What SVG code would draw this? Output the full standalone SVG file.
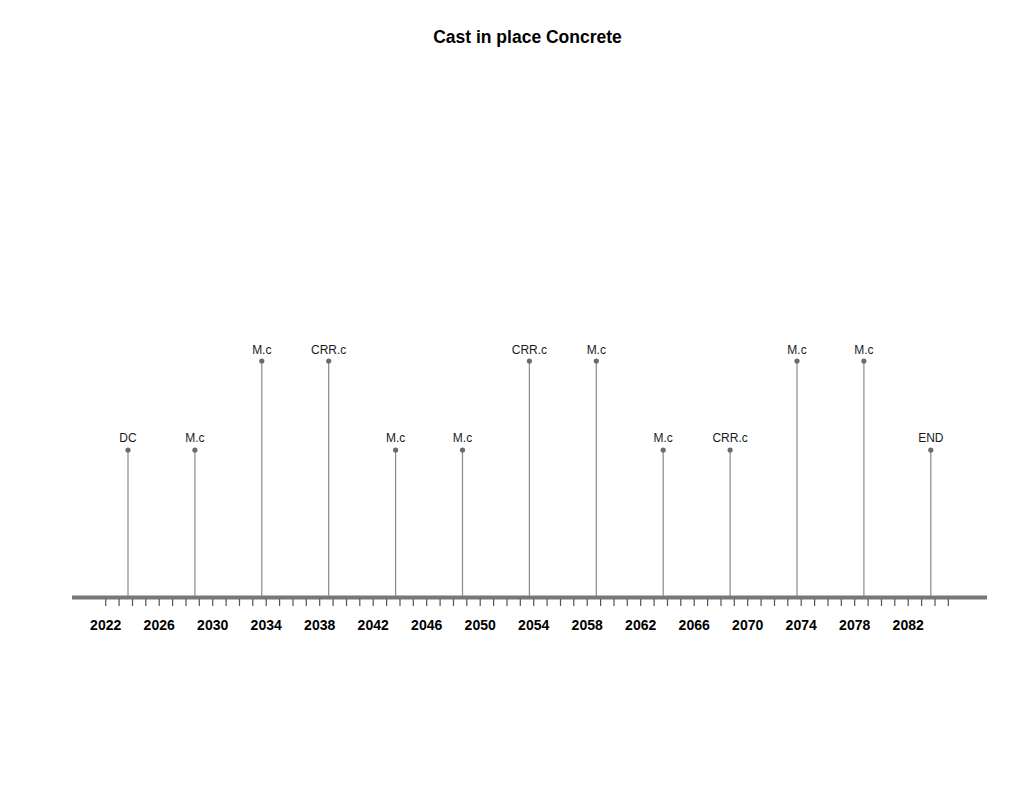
<svg xmlns="http://www.w3.org/2000/svg" width="1024" height="800" viewBox="0 0 1024 800">
<style>
.title{font-family:"Liberation Sans",Arial,sans-serif;font-size:17.5px;font-weight:bold;fill:#000;text-anchor:middle}
.yr{font-family:"Liberation Sans",Arial,sans-serif;font-size:14px;font-weight:bold;fill:#000;text-anchor:middle}
.lbl{font-family:"Liberation Sans",Arial,sans-serif;font-size:12px;fill:#1a1a1a;text-anchor:middle}
.stem{stroke:#8a8a8a;stroke-width:1.2}
.dot{fill:#6b6b6b}
.tick{stroke:#555;stroke-width:1.2}
</style>
<rect width="1024" height="800" fill="#fff"/>
<text class="title" x="527.5" y="43">Cast in place Concrete</text>
<g id="axis">
<line x1="72" y1="597.5" x2="987" y2="597.5" stroke="#777" stroke-width="4"/>
<path class="tick" d="M105.7 599V606M119.1 599V606M132.5 599V606M145.8 599V606M159.2 599V606M172.6 599V606M186 599V606M199.3 599V606M212.7 599V606M226.1 599V606M239.5 599V606M252.8 599V606M266.2 599V606M279.6 599V606M293 599V606M306.3 599V606M319.7 599V606M333.1 599V606M346.5 599V606M359.8 599V606M373.2 599V606M386.6 599V606M400 599V606M413.3 599V606M426.7 599V606M440.1 599V606M453.5 599V606M466.8 599V606M480.2 599V606M493.6 599V606M507 599V606M520.3 599V606M533.7 599V606M547.1 599V606M560.5 599V606M573.8 599V606M587.2 599V606M600.6 599V606M614 599V606M627.3 599V606M640.7 599V606M654.1 599V606M667.5 599V606M680.8 599V606M694.2 599V606M707.6 599V606M721 599V606M734.3 599V606M747.7 599V606M761.1 599V606M774.5 599V606M787.8 599V606M801.2 599V606M814.6 599V606M828 599V606M841.3 599V606M854.7 599V606M868.1 599V606M881.5 599V606M894.8 599V606M908.2 599V606M921.6 599V606M935 599V606M948.3 599V606"/>
<text class="yr" x="105.7" y="629.5">2022</text>
<text class="yr" x="159.2" y="629.5">2026</text>
<text class="yr" x="212.7" y="629.5">2030</text>
<text class="yr" x="266.2" y="629.5">2034</text>
<text class="yr" x="319.7" y="629.5">2038</text>
<text class="yr" x="373.2" y="629.5">2042</text>
<text class="yr" x="426.7" y="629.5">2046</text>
<text class="yr" x="480.2" y="629.5">2050</text>
<text class="yr" x="533.7" y="629.5">2054</text>
<text class="yr" x="587.2" y="629.5">2058</text>
<text class="yr" x="640.7" y="629.5">2062</text>
<text class="yr" x="694.2" y="629.5">2066</text>
<text class="yr" x="747.7" y="629.5">2070</text>
<text class="yr" x="801.2" y="629.5">2074</text>
<text class="yr" x="854.7" y="629.5">2078</text>
<text class="yr" x="908.2" y="629.5">2082</text>
</g>
<g id="connectors">
<line class="stem" x1="128" y1="450" x2="128" y2="596"/>
<line class="stem" x1="194.9" y1="450" x2="194.9" y2="596"/>
<line class="stem" x1="261.8" y1="361" x2="261.8" y2="596"/>
<line class="stem" x1="328.7" y1="361" x2="328.7" y2="596"/>
<line class="stem" x1="395.6" y1="450" x2="395.6" y2="596"/>
<line class="stem" x1="462.5" y1="450" x2="462.5" y2="596"/>
<line class="stem" x1="529.4" y1="361" x2="529.4" y2="596"/>
<line class="stem" x1="596.3" y1="361" x2="596.3" y2="596"/>
<line class="stem" x1="663.2" y1="450" x2="663.2" y2="596"/>
<line class="stem" x1="730.1" y1="450" x2="730.1" y2="596"/>
<line class="stem" x1="797" y1="361" x2="797" y2="596"/>
<line class="stem" x1="863.9" y1="361" x2="863.9" y2="596"/>
<line class="stem" x1="930.8" y1="450" x2="930.8" y2="596"/>
</g>
<g id="e1"><circle class="dot" cx="128" cy="450" r="2.6"/><text class="lbl" x="128" y="442">DC</text></g>
<g id="e2"><circle class="dot" cx="194.9" cy="450" r="2.6"/><text class="lbl" x="194.9" y="442">M.c</text></g>
<g id="e3"><circle class="dot" cx="261.8" cy="361" r="2.6"/><text class="lbl" x="261.8" y="354">M.c</text></g>
<g id="e4"><circle class="dot" cx="328.7" cy="361" r="2.6"/><text class="lbl" x="328.7" y="354">CRR.c</text></g>
<g id="e5"><circle class="dot" cx="395.6" cy="450" r="2.6"/><text class="lbl" x="395.6" y="442">M.c</text></g>
<g id="e6"><circle class="dot" cx="462.5" cy="450" r="2.6"/><text class="lbl" x="462.5" y="442">M.c</text></g>
<g id="e7"><circle class="dot" cx="529.4" cy="361" r="2.6"/><text class="lbl" x="529.4" y="354">CRR.c</text></g>
<g id="e8"><circle class="dot" cx="596.3" cy="361" r="2.6"/><text class="lbl" x="596.3" y="354">M.c</text></g>
<g id="e9"><circle class="dot" cx="663.2" cy="450" r="2.6"/><text class="lbl" x="663.2" y="442">M.c</text></g>
<g id="e10"><circle class="dot" cx="730.1" cy="450" r="2.6"/><text class="lbl" x="730.1" y="442">CRR.c</text></g>
<g id="e11"><circle class="dot" cx="797" cy="361" r="2.6"/><text class="lbl" x="797" y="354">M.c</text></g>
<g id="e12"><circle class="dot" cx="863.9" cy="361" r="2.6"/><text class="lbl" x="863.9" y="354">M.c</text></g>
<g id="e13"><circle class="dot" cx="930.8" cy="450" r="2.6"/><text class="lbl" x="930.8" y="442">END</text></g>
</svg>
